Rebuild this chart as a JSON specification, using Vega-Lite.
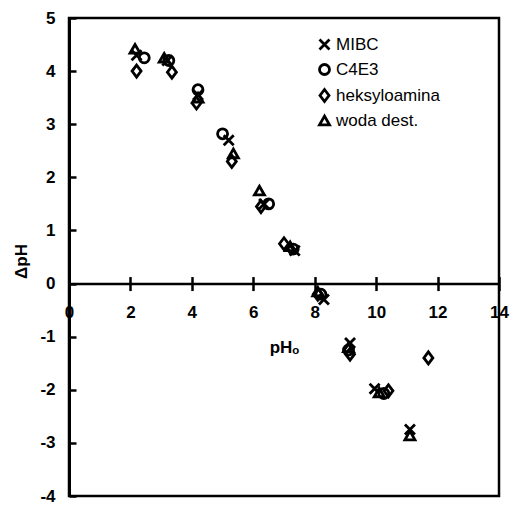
{
  "$schema": "https://vega.github.io/schema/vega-lite/v6.json",
  "width": 430,
  "height": 478,
  "autosize": {"type": "none"},
  "padding": {"left": 69, "top": 18, "right": 15, "bottom": 9},
  "background": "white",
  "config": {"view": {"stroke": "black", "strokeWidth": 2.5}, "font": "Liberation Sans"},
  "data": {"values": [
    {"ph": 2.2, "dph": 4.3, "series": "MIBC"},
    {"ph": 3.2, "dph": 4.2, "series": "MIBC"},
    {"ph": 4.2, "dph": 3.55, "series": "MIBC"},
    {"ph": 5.2, "dph": 2.7, "series": "MIBC"},
    {"ph": 6.35, "dph": 1.5, "series": "MIBC"},
    {"ph": 7.35, "dph": 0.62, "series": "MIBC"},
    {"ph": 8.3, "dph": -0.3, "series": "MIBC"},
    {"ph": 9.15, "dph": -1.12, "series": "MIBC"},
    {"ph": 9.95, "dph": -1.98, "series": "MIBC"},
    {"ph": 11.1, "dph": -2.75, "series": "MIBC"},
    {"ph": 2.45, "dph": 4.25, "series": "C4E3"},
    {"ph": 3.25, "dph": 4.2, "series": "C4E3"},
    {"ph": 4.2, "dph": 3.65, "series": "C4E3"},
    {"ph": 5.0, "dph": 2.82, "series": "C4E3"},
    {"ph": 6.5, "dph": 1.5, "series": "C4E3"},
    {"ph": 7.3, "dph": 0.65, "series": "C4E3"},
    {"ph": 8.2, "dph": -0.2, "series": "C4E3"},
    {"ph": 9.1, "dph": -1.25, "series": "C4E3"},
    {"ph": 10.25, "dph": -2.07, "series": "C4E3"},
    {"ph": 2.2, "dph": 4.0, "series": "heksyloamina"},
    {"ph": 3.35, "dph": 3.98, "series": "heksyloamina"},
    {"ph": 4.15, "dph": 3.4, "series": "heksyloamina"},
    {"ph": 5.3, "dph": 2.3, "series": "heksyloamina"},
    {"ph": 6.25, "dph": 1.45, "series": "heksyloamina"},
    {"ph": 7.0, "dph": 0.75, "series": "heksyloamina"},
    {"ph": 8.1, "dph": -0.2, "series": "heksyloamina"},
    {"ph": 9.15, "dph": -1.33, "series": "heksyloamina"},
    {"ph": 10.4, "dph": -2.02, "series": "heksyloamina"},
    {"ph": 11.7, "dph": -1.4, "series": "heksyloamina"},
    {"ph": 2.15, "dph": 4.42, "series": "woda dest."},
    {"ph": 3.1, "dph": 4.25, "series": "woda dest."},
    {"ph": 4.2, "dph": 3.5, "series": "woda dest."},
    {"ph": 5.35, "dph": 2.45, "series": "woda dest."},
    {"ph": 6.2, "dph": 1.75, "series": "woda dest."},
    {"ph": 7.2, "dph": 0.7, "series": "woda dest."},
    {"ph": 8.1, "dph": -0.15, "series": "woda dest."},
    {"ph": 9.1, "dph": -1.2, "series": "woda dest."},
    {"ph": 10.1, "dph": -2.05, "series": "woda dest."},
    {"ph": 11.1, "dph": -2.86, "series": "woda dest."}
  ]},
  "layer": [
    {
      "mark": {"type": "point", "opacity": 0},
      "encoding": {
        "x": {
          "field": "ph", "type": "quantitative",
          "scale": {"domain": [0, 14], "nice": false, "zero": false},
          "axis": {
            "orient": "top", "offset": -265.56,
            "values": [0, 2, 4, 6, 8, 10, 12, 14],
            "grid": false, "domain": false, "labels": false, "title": null,
            "tickSize": 7, "tickWidth": 2.5, "tickColor": "black"
          }
        },
        "y": {"field": "dph", "type": "quantitative", "scale": {"domain": [-4, 5], "nice": false, "zero": false}}
      }
    },
    {
      "mark": {"type": "point", "filled": false, "stroke": "black", "strokeWidth": 2.8, "size": 100, "opacity": 1},
      "encoding": {
        "x": {
          "field": "ph", "type": "quantitative",
          "scale": {"domain": [0, 14], "nice": false, "zero": false},
          "axis": {
            "orient": "bottom", "offset": -212.44,
            "values": [0, 2, 4, 6, 8, 10, 12, 14],
            "grid": false,
            "tickSize": 7, "tickWidth": 2.5, "tickColor": "black",
            "domainColor": "black", "domainWidth": 2.5,
            "labelFont": "Liberation Sans", "labelFontWeight": "bold", "labelFontSize": 17, "labelColor": "black",
            "labelPadding": 14, "labelFlush": false, "labelOverlap": false,
            "title": "pHₒ", "titleFont": "Liberation Sans", "titleFontSize": 17, "titleFontWeight": "bold", "titleColor": "black",
            "titleY": 64, "titleBaseline": "middle"
          }
        },
        "y": {
          "field": "dph", "type": "quantitative",
          "scale": {"domain": [-4, 5], "nice": false, "zero": false},
          "axis": {
            "values": [-4, -3, -2, -1, 0, 1, 2, 3, 4, 5],
            "grid": false,
            "tickSize": -7, "tickWidth": 2.5, "tickColor": "black",
            "domainColor": "black", "domainWidth": 3,
            "labelFont": "Liberation Sans", "labelFontWeight": "bold", "labelFontSize": 17, "labelColor": "black",
            "labelPadding": 21, "labelFlush": false, "labelOverlap": false,
            "labelExpr": "'' + datum.value",
            "title": "ΔpH", "titleFont": "Liberation Sans", "titleFontSize": 17, "titleFontWeight": "bold", "titleColor": "black",
            "titleAngle": 270, "titleX": -48, "titleY": 243, "titleAlign": "center", "titleBaseline": "middle"
          }
        },
        "shape": {
          "field": "series", "type": "nominal",
          "scale": {
            "domain": ["MIBC", "C4E3", "heksyloamina", "woda dest."],
            "range": ["M-1,-1L1,1M-1,1L1,-1", "circle", "M0,-1.2L0.9,0L0,1.2L-0.9,0Z", "triangle-up"]
          },
          "legend": {
            "orient": "none", "legendX": 247, "legendY": 18,
            "title": null, "padding": 0, "rowPadding": 2,
            "labelFont": "Liberation Sans", "labelFontSize": 17, "labelColor": "black", "labelOffset": 3,
            "symbolSize": 100, "symbolStrokeWidth": 2.8, "symbolStrokeColor": "black", "symbolFillColor": "transparent",
            "labelExpr": "datum.label == 'heksyloamina' ? ' heksyloamina' : datum.label"
          }
        }
      }
    }
  ],
  "resolve": {"axis": {"x": "independent"}}
}
